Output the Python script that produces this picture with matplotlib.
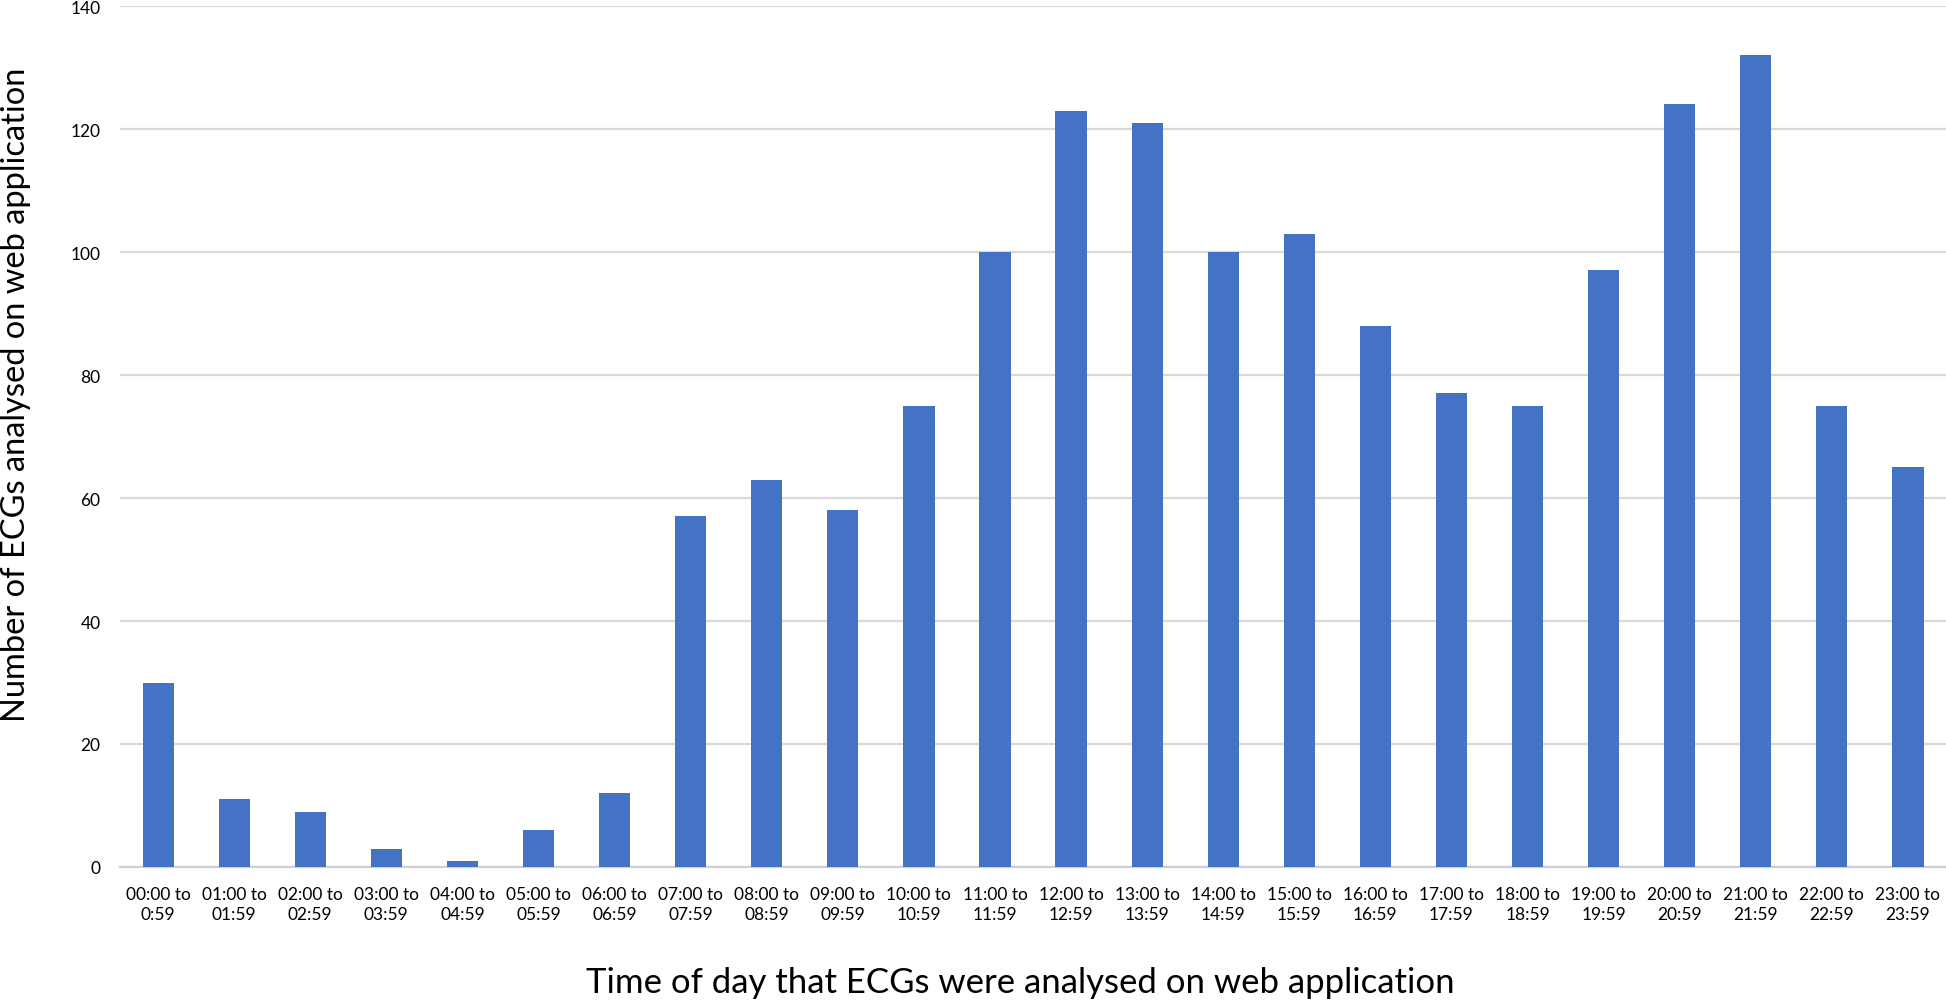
"""Bar chart: ECGs analysed on the web application by hour of day."""

import matplotlib

matplotlib.use("Agg")
import matplotlib.pyplot as plt

hour_labels = [
    "00:00 to\n0:59", "01:00 to\n01:59", "02:00 to\n02:59", "03:00 to\n03:59",
    "04:00 to\n04:59", "05:00 to\n05:59", "06:00 to\n06:59", "07:00 to\n07:59",
    "08:00 to\n08:59", "09:00 to\n09:59", "10:00 to\n10:59", "11:00 to\n11:59",
    "12:00 to\n12:59", "13:00 to\n13:59", "14:00 to\n14:59", "15:00 to\n15:59",
    "16:00 to\n16:59", "17:00 to\n17:59", "18:00 to\n18:59", "19:00 to\n19:59",
    "20:00 to\n20:59", "21:00 to\n21:59", "22:00 to\n22:59", "23:00 to\n23:59",
]
ecg_counts = [30, 11, 9, 3, 1, 6, 12, 57, 63, 58, 75, 100,
              123, 121, 100, 103, 88, 77, 75, 97, 124, 132, 75, 65]
y_ticks = [0, 20, 40, 60, 80, 100, 120, 140]

plt.rcParams["font.family"] = ["Lato", "DejaVu Sans"]

fig = plt.figure(figsize=(19.46, 10.03), dpi=100)
ax = fig.add_axes([0.0617, 0.1346, 0.9383, 0.8584])

x = range(len(ecg_counts))
ax.bar(x, ecg_counts, width=0.41, color="#4472C4", zorder=3)

ax.set_xlim(-0.5, len(ecg_counts) - 0.5)
ax.set_ylim(0, 140)
ax.set_yticks(y_ticks)
ax.set_xticks(list(x))
ax.set_xticklabels(hour_labels, fontsize=12.5, linespacing=1.3)
ax.tick_params(axis="y", labelsize=12.5, length=0, pad=14)
ax.tick_params(axis="x", length=0, pad=14)

ax.grid(axis="y", color="#D9D9D9", linewidth=1.6, zorder=0)
for side in ("top", "right", "left"):
    ax.spines[side].set_visible(False)
ax.spines["bottom"].set_color("#D0D0DC")
ax.spines["bottom"].set_linewidth(1.6)

ax.set_ylabel("Number of ECGs analysed on web application", fontsize=23.5)
ax.yaxis.set_label_coords(-0.0487, 0.55)
ax.set_xlabel("Time of day that ECGs were analysed on web application", fontsize=25)
ax.xaxis.set_label_coords(0.493, -0.115)

plt.savefig("out.png", dpi=100)
plt.close(fig)
